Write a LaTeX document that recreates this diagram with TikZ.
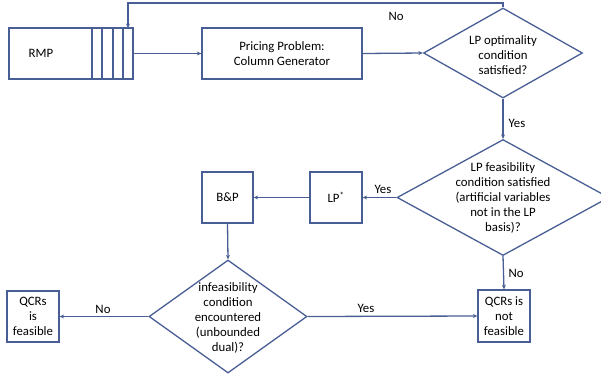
\documentclass[tikz,border=0pt]{standalone}
\usepackage{fontspec}
\setmainfont{Carlito}
\usetikzlibrary{shapes.geometric,arrows.meta}
\definecolor{ln}{RGB}{72,94,148}
\begin{document}
\begin{tikzpicture}[x=1pt,y=-1pt,
  box/.style={draw=ln,line width=1.3pt,rectangle,inner sep=0pt},
  dia/.style={draw=ln,line width=1.3pt,diamond,inner sep=0pt},
  txt/.style={font=\fontsize{12.8}{15}\selectfont,align=center,inner sep=0pt},
  lbl/.style={font=\fontsize{12.8}{15}\selectfont,inner sep=0pt},
  arr/.style={draw=ln,line width=1.3pt,-{Stealth[length=4.5pt,width=4pt]}}]
\useasboundingbox (0,0) rectangle (601,376);
% RMP
\node[box,minimum width=124pt,minimum height=51pt] (rmp) at (71,53.5) {};
\node[txt] (rmpt) at (41,53.5) {RMP};
\foreach \x in {92,102,113,123}{\draw[ln,line width=1.3pt] (\x,28) -- (\x,79);}
\coordinate (rmpin) at (128,28);
% pricing
\node[box,minimum width=160pt,minimum height=51pt] (pr) at (282,53.5) {};
\node[txt] (prt) at (282,53.5) {Pricing Problem:\\Column Generator};
% diamond 1
\node[dia,minimum width=159pt,minimum height=90pt] (d1) at (503,53) {};
\node[txt] (d1t) at (503,55) {LP optimality\\condition\\satisfied?};
% diamond 2
\node[dia,minimum width=212pt,minimum height=116pt] (d2) at (503,197.5) {};
\node[txt] (d2t) at (503,198) {LP feasibility\\condition satisfied\\(artificial variables\\not in the LP\\basis)?};
% LP*
\node[box,minimum width=52pt,minimum height=51pt] (lp) at (336,197.5) {};
\node[txt] (lpt) at (336,197.5) {LP\textsuperscript{*}};
% B&P
\node[box,minimum width=51pt,minimum height=51pt] (bp) at (227.5,197.5) {};
\node[txt] (bpt) at (227.5,197.5) {B\&P};
% diamond 3
\node[dia,minimum width=158pt,minimum height=113pt] (d3) at (228,316.5) {};
\node[txt] (d3t) at (228,318) {infeasibility\\condition\\encountered\\(unbounded\\dual)?};
% QCRs boxes
\node[box,minimum width=52pt,minimum height=51pt] (qf) at (33,316.5) {};
\node[txt] (qft) at (33,316.5) {QCRs\\is\\feasible};
\node[box,minimum width=52pt,minimum height=52pt] (qn) at (504,316) {};
\node[txt] (qnt) at (504,316) {QCRs is\\not\\feasible};
% connectors
\coordinate (c1) at (503,3);
\coordinate (c2) at (128,3);
\draw[arr] (d1.north) -- (c1) -- (c2) -- (rmpin);
\node[lbl] (lno1) at (396,16) {No};
\draw[arr] (rmp.east) -- (pr.west);
\draw[arr] (pr.east) -- (d1.west);
\draw[arr] (d1.south) -- (d2.north);
\node[lbl] (lyes1) at (517,123) {Yes};
\draw[arr] (d2.west) -- (lp.east);
\node[lbl] (lyes2) at (383,189) {Yes};
\draw[arr] (lp.west) -- (bp.east);
\draw[arr] (bp.south) -- (d3.north);
\draw[arr] (d3.west) -- (qf.east);
\node[lbl] (lno2) at (103,309) {No};
\draw[arr] (d3.east) -- (qn.west);
\node[lbl] (lyes3) at (366,308) {Yes};
\draw[arr] (d2.south) -- (qn.north);
\node[lbl] (lno3) at (516,273) {No};
\end{tikzpicture}
\end{document}
